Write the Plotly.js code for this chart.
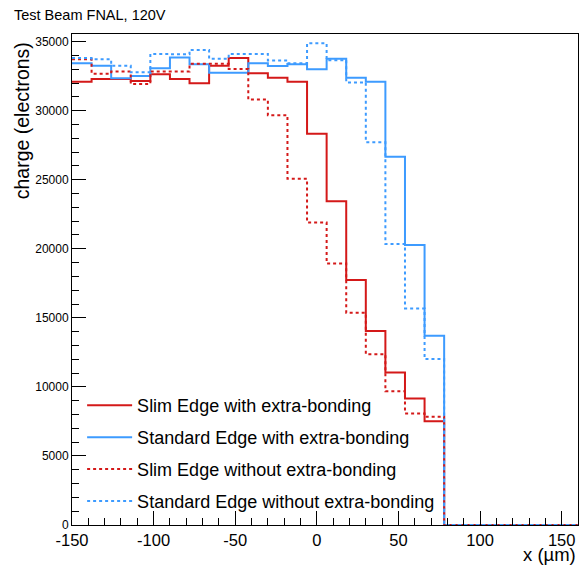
<!DOCTYPE html>
<html>
<head>
<meta charset="utf-8">
<script src="https://cdn.plot.ly/plotly-3.0.1.min.js"></script>
<style>
html,body{margin:0;padding:0;background:#fff;}
#chart{width:587px;height:567px;}
</style>
</head>
<body>
<div id="chart"></div>
<script>
// Bin edges (µm): bins of 12 µm from -150 to 78, then empty up to 160
const binEdges = [-150,-138,-126,-114,-102,-90,-78,-66,-54,-42,-30,-18,-6,6,18,30,42,54,66,78];
const xMax = 160;

const slimWith = [32100,32300,32300,32150,32630,32300,31990,33260,33820,32710,32390,32100,28330,23440,17730,14040,11040,9160,7510];
const standardWith = [33430,33260,32350,32510,33070,33840,33360,32750,32750,33430,33240,33360,33000,33750,32390,32100,26670,20270,13700];
const slimWithout = [33720,32680,32830,31930,32830,32830,33400,33400,33020,30800,29670,25070,21910,18940,15360,12370,9690,8080,7830];
const standardWithout = [33820,33720,33260,32780,34110,34090,34400,33750,34110,34110,33630,33430,34880,33650,32030,27710,20340,15680,12010];

const seriesNames = [
  "Slim Edge with extra-bonding",
  "Standard Edge with extra-bonding",
  "Slim Edge without extra-bonding",
  "Standard Edge without extra-bonding"
];

const RED = "#d41919";
const BLUE = "#3d9bff";

function stepXY(vals){
  const x = binEdges.concat([xMax]);
  const y = vals.concat([0, 0]);
  return {x, y};
}

const styles = [
  {color: RED, dash: "solid"},
  {color: BLUE, dash: "solid"},
  {color: RED, dash: "3px,3px"},
  {color: BLUE, dash: "3px,3px"}
];
const allVals = [slimWith, standardWith, slimWithout, standardWithout];

const traces = allVals.map((v, i) => {
  const s = stepXY(v);
  return {
    type: "scatter", mode: "lines",
    x: s.x, y: s.y,
    line: {shape: "hv", color: styles[i].color, width: 2, dash: styles[i].dash},
    name: seriesNames[i],
    legendgroup: "g" + i,
    cliponaxis: false
  };
});

const FONT = "Liberation Sans, Arial, sans-serif";

const layout = {
  width: 587, height: 567,
  margin: {l: 72, r: 9, t: 34, b: 42, pad: 0},
  paper_bgcolor: "#fff", plot_bgcolor: "#fff",
  font: {family: FONT, color: "#000"},
  title: {text: "Test Beam FNAL, 120V", x: 14/587, xanchor: "left", xref: "container",
          y: 1 - 15/567, yanchor: "middle", yref: "container", font: {size: 14.5, family: FONT}},
  showlegend: true,
  legend: {
    x: 0.02, y: 0.281, xanchor: "left", yanchor: "top",
    bgcolor: "rgba(255,255,255,0)", borderwidth: 0,
    font: {size: 18, family: FONT}, tracegroupgap: 5.5, itemwidth: 45
  },
  xaxis: {
    range: [-150, xMax], showgrid: false, zeroline: false,
    showline: true, linecolor: "#000", linewidth: 1, mirror: true,
    ticks: "inside", ticklen: 14, tickwidth: 1, tickcolor: "#000",
    tickvals: [-150,-100,-50,0,50,100,150],
    ticktext: ["-150","-100","-50","0","50","100","150"],
    tickfont: {size: 16.5, family: FONT},
    minor: {dtick: 10, tick0: 0, ticks: "inside", ticklen: 7, tickcolor: "#000", showgrid: false}
  },
  yaxis: {
    range: [0, 35550], showgrid: false, zeroline: false,
    showline: true, linecolor: "#000", linewidth: 1, mirror: true,
    ticks: "inside", ticklen: 14, tickwidth: 1, tickcolor: "#000",
    tickvals: [0,5000,10000,15000,20000,25000,30000,35000],
    ticktext: ["0","5000","10000","15000","20000","25000","30000","35000"],
    tickfont: {size: 12, family: FONT},
    minor: {dtick: 1000, tick0: 0, ticks: "inside", ticklen: 7, tickcolor: "#000", showgrid: false}
  },
  annotations: [
    {text: "charge (electrons)", textangle: -90, xref: "paper", yref: "paper",
     x: -0.099, y: 0.988, xanchor: "center", yanchor: "top", showarrow: false,
     font: {size: 19.5, family: FONT}},
    {text: "x (µm)", xref: "paper", yref: "paper", x: 1.0, y: -0.086,
     xanchor: "right", yanchor: "bottom", showarrow: false, font: {size: 18.5, family: FONT}}
  ]
};

Plotly.newPlot("chart", traces, layout, {displayModeBar: false, staticPlot: true});
</script>
</body>
</html>
